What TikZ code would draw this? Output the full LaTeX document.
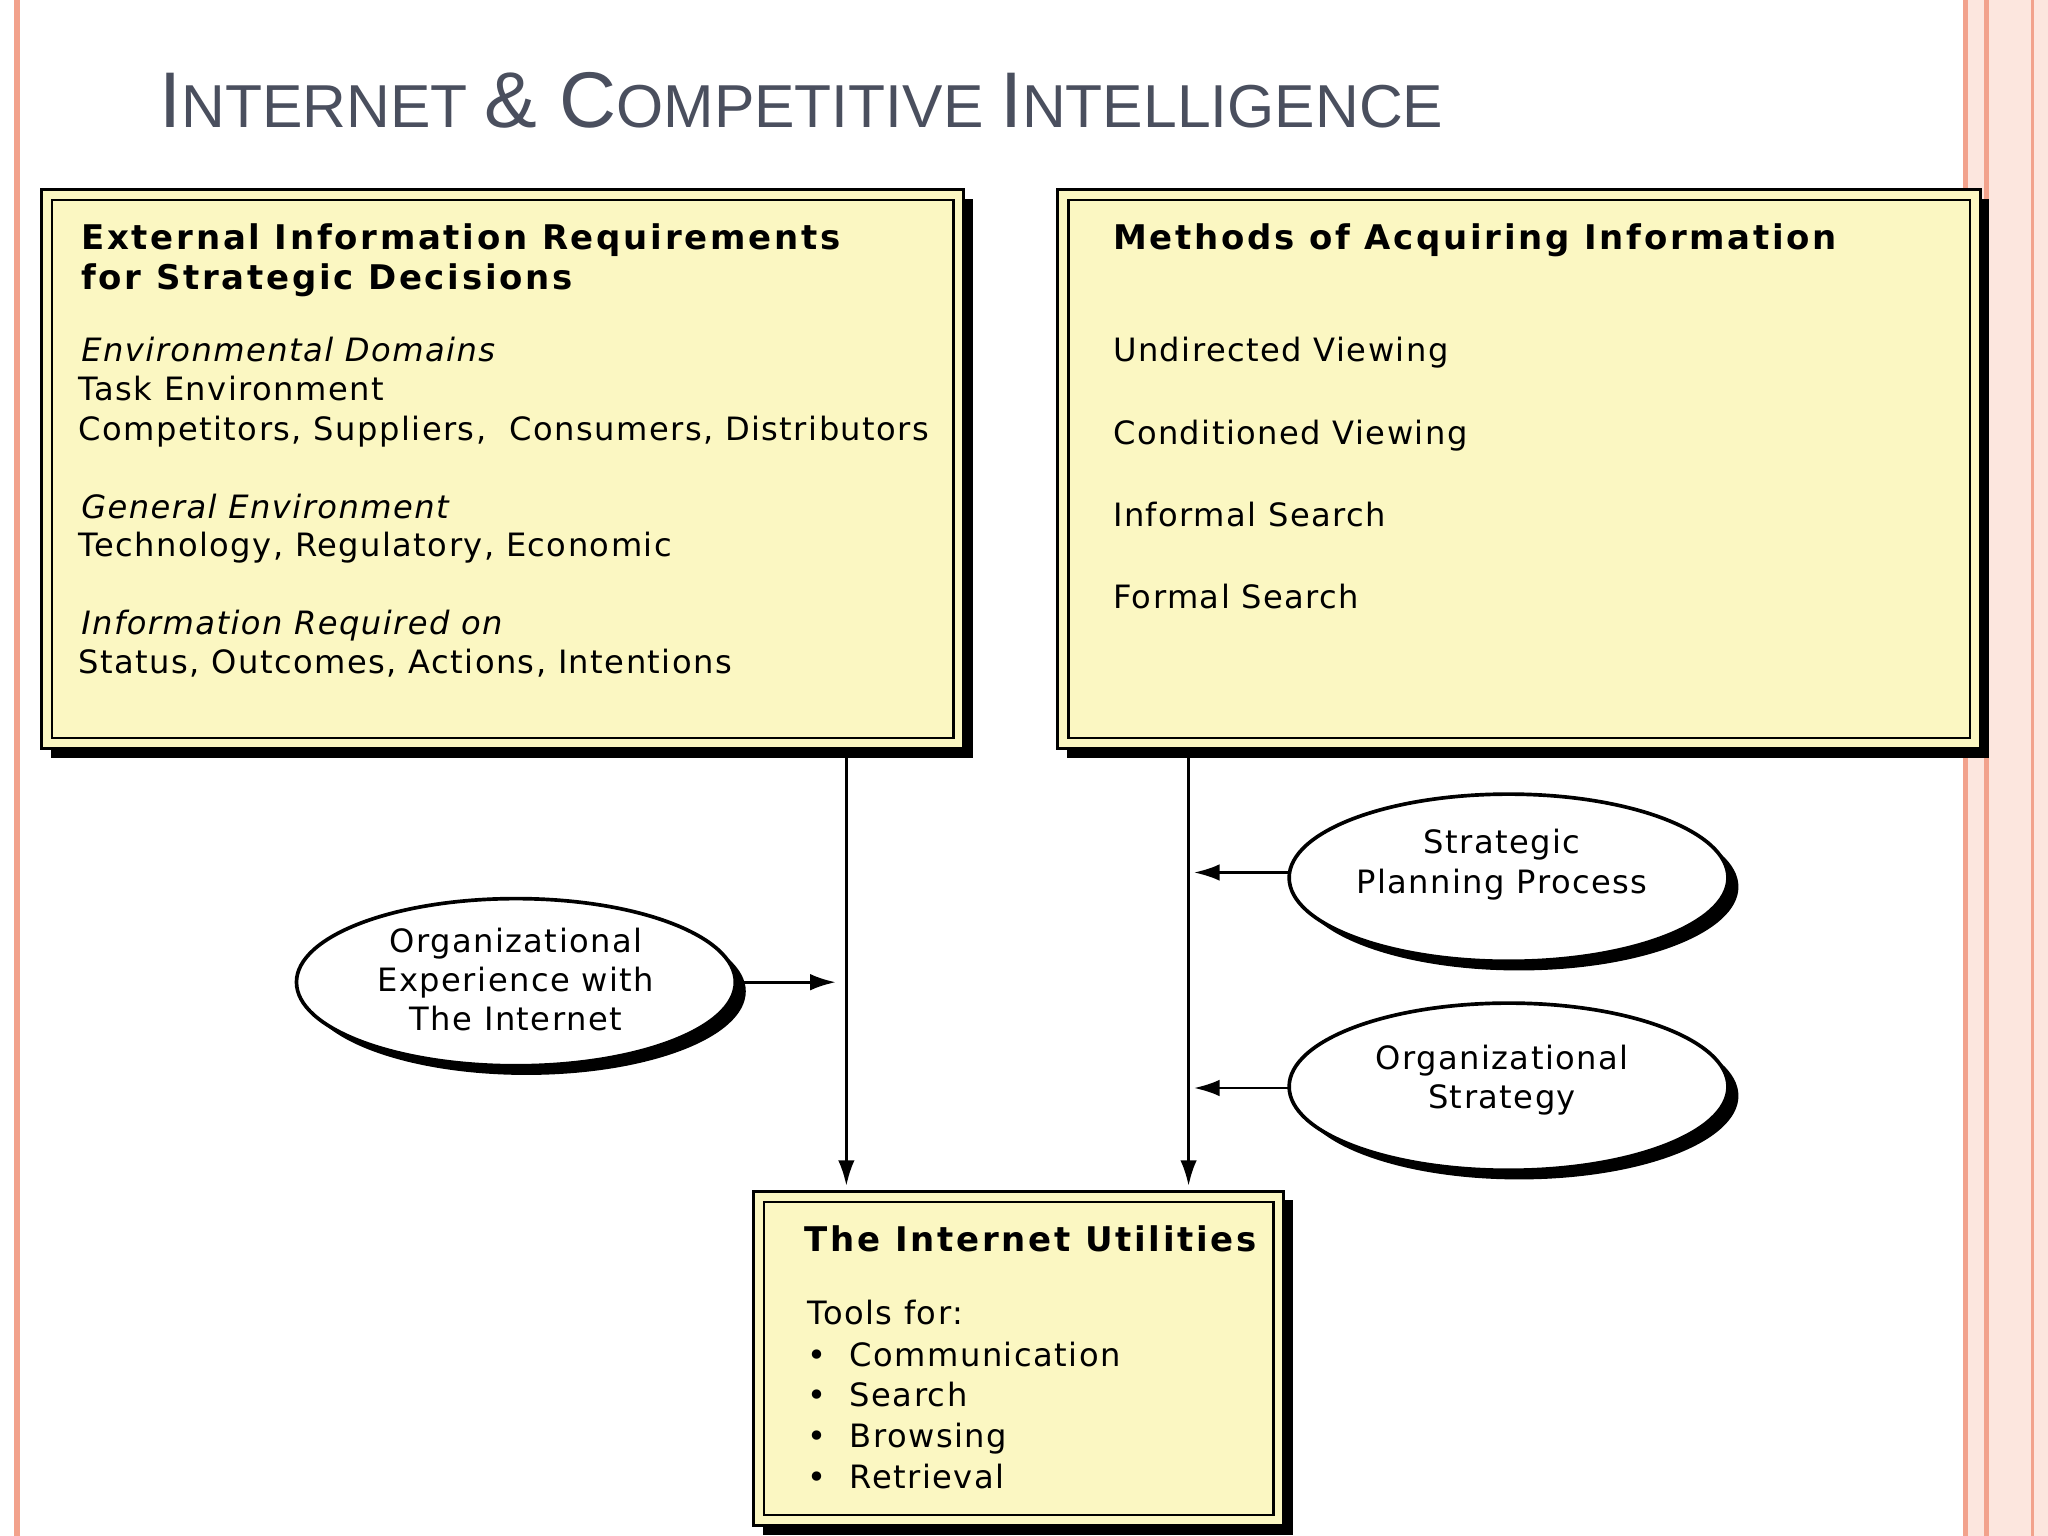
\documentclass[tikz,border=0pt]{standalone}
\usepackage{fontspec}
\setmainfont{DejaVu Sans}[LetterSpace=4.5]
\newfontfamily\boldfam{DejaVu Sans Bold}[LetterSpace=8]
\newfontfamily\titfont{Liberation Sans}
\usetikzlibrary{arrows.meta}
\definecolor{boxy}{HTML}{FBF7C2}
\definecolor{salm}{HTML}{F2A28C}
\definecolor{pinkbg}{HTML}{FCE6DE}
\definecolor{titc}{HTML}{4A4F5E}
\tikzset{
 tx/.style={anchor=base west,inner sep=0pt,font=\fontsize{17.5}{21}\selectfont},
 bt/.style={tx,font=\boldfam\fontsize{18.5}{21}\selectfont},
 it/.style={tx,font=\fontsize{17.5}{21}\selectfont\itshape},
 arr/.style={line width=1.6pt,-{Latex[length=14pt,width=9pt]}},
 etx/.style={align=center,font=\fontsize{17.5}{21.3}\selectfont},
}
\newcommand{\ybox}[5]{% name x1 y1 x2 y2
 \fill (#2+7,#3+7) rectangle (#4+7,#5+7);
 \filldraw[fill=boxy,line width=1.6pt] (#2,#3) rectangle (#4,#5);
 \draw[line width=1.2pt] (#2+8,#3+8) rectangle (#4-8,#5-8);
 \coordinate (#1) at ({(#2+#4)/2},#5);}
\begin{document}
\begin{tikzpicture}[x={(0.025cm,0)},y={(0,-0.025cm)}]
\useasboundingbox (0,0) rectangle (1568,1176);
\fill[white] (0,0) rectangle (1568,1176);
\fill[pinkbg] (1503,0) rectangle (1568,1176);
\draw[salm,line width=3pt] (1505,0) -- (1505,1176);
\draw[salm,line width=3pt] (1521,0) -- (1521,1176);
\draw[salm,line width=2pt] (1556,0) -- (1556,1176);
\draw[salm,line width=3pt] (13,0) -- (13,1176);
\node[anchor=base west,inner sep=0pt,text=titc] (title) at (122,98)
 {\titfont\fontsize{43}{50}\selectfont I\fontsize{33}{40}\selectfont NTERNET \fontsize{43}{50}\selectfont \& C\fontsize{33}{40}\selectfont OMPETITIVE \fontsize{43}{50}\selectfont I\fontsize{33}{40}\selectfont NTELLIGENCE};
\ybox{lb}{32}{145}{738}{573}
\ybox{rb}{810}{145}{1516}{573}
\ybox{bb}{577}{912}{983}{1168}
\node[bt] (l1) at (62,191) {External Information Requirements};
\node[bt] (l2) at (62,222) {for Strategic Decisions};
\node[it] (l3) at (62,277) {Environmental Domains};
\node[tx] (l4) at (60,307) {Task Environment};
\node[tx] (l5) at (60,337) {Competitors, Suppliers,\ \ Consumers, Distributors};
\node[it] (l6) at (62,397) {General Environment};
\node[tx] (l7) at (60,426) {Technology, Regulatory, Economic};
\node[it] (l8) at (62,486) {Information Required on};
\node[tx] (l9) at (60,516) {Status, Outcomes, Actions, Intentions};
\node[bt] (r1) at (852,191) {Methods of Acquiring Information};
\node[tx] (r2) at (852,277) {Undirected Viewing};
\node[tx] (r3) at (852,340) {Conditioned Viewing};
\node[tx] (r4) at (852,403) {Informal Search};
\node[tx] (r5) at (852,466) {Formal Search};
\node[bt] (b1) at (616,958) {The Internet Utilities};
\node[tx] (b2) at (618,1014) {Tools for:};
\node[tx] (b3) at (618,1046) {\textbullet\ \ Communication};
\node[tx] (b4) at (618,1077) {\textbullet\ \ Search};
\node[tx] (b5) at (618,1108) {\textbullet\ \ Browsing};
\node[tx] (b6) at (618,1140) {\textbullet\ \ Retrieval};
\foreach \cx/\cy in {395/752,1155/672,1155/832}{
 \fill (\cx+8,\cy+7) ellipse [x radius=168, y radius=64];
 \filldraw[fill=white,line width=2pt] (\cx,\cy) ellipse [x radius=168, y radius=64];}
\node[etx] (e1) at (395,750) {Organizational\\Experience with\\The Internet};
\node[etx] (e2) at (1150,662) {Strategic\\Planning Process};
\node[etx] (e3) at (1150,827) {Organizational\\Strategy};
\coordinate (la) at (648,575); \coordinate (lz) at (648,908);
\coordinate (ra) at (910,575); \coordinate (rz) at (910,908);
\draw[arr] (la) -- (lz);
\draw[arr] (ra) -- (rz);
\coordinate (e1r) at (563,752); \coordinate (e1t) at (640,752);
\coordinate (e2l) at (987,668); \coordinate (e2t) at (914,668);
\coordinate (e3l) at (987,833); \coordinate (e3t) at (914,833);
\draw[arr] (e1r) -- (e1t);
\draw[arr] (e2l) -- (e2t);
\draw[arr] (e3l) -- (e3t);
\end{tikzpicture}
\end{document}
